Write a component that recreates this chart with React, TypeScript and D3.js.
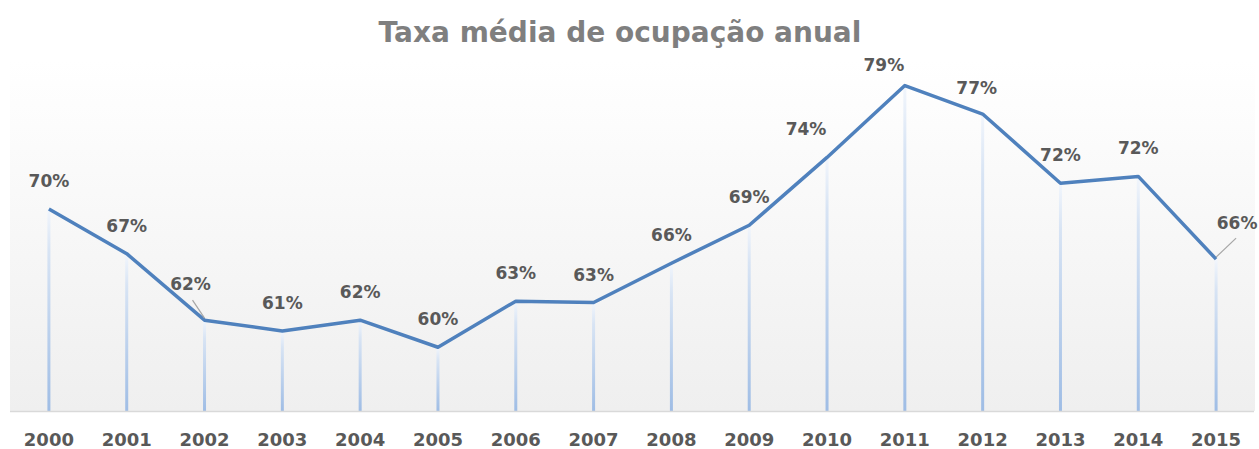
import React, { useEffect, useRef } from "react";
import * as d3 from "d3";

const years = ["2000", "2001", "2002", "2003", "2004", "2005", "2006", "2007",
  "2008", "2009", "2010", "2011", "2012", "2013", "2014", "2015"];
const rates = [69.9, 66.6, 61.7, 60.9, 61.7, 59.7, 63.1, 63.0,
  65.9, 68.7, 73.7, 79.0, 76.9, 71.8, 72.3, 66.2];
const title = "Taxa média de ocupação anual";

// label nudges (dx, dy) relative to point, Excel-style placement
const labelOffset: Record<string, [number, number]> = {
  "2002": [-14, -30],
  "2011": [-21, -15],
  "2012": [-6, -20],
  "2010": [-21, -22],
  "2015": [21, -30],
};

const W = 1259;
const H = 449;
const FONT = "'DejaVu Sans', Verdana, sans-serif";

export default function App() {
  const ref = useRef<SVGSVGElement | null>(null);

  useEffect(() => {
    const svg = d3.select(ref.current);
    svg.selectAll("*").remove();

    const left = 10, right = 1255, top = 72, bottom = 411;
    const x = d3.scaleBand().domain(years).range([left, right]);
    const y = d3.scaleLinear().domain([55, 80]).range([bottom, top]);
    const cx = (d: string) => (x(d) ?? 0) + x.bandwidth() / 2;

    const defs = svg.append("defs");
    const bg = defs.append("linearGradient").attr("id", "bg")
      .attr("x1", 0).attr("y1", 0).attr("x2", 0).attr("y2", 1);
    bg.append("stop").attr("offset", "0%").attr("stop-color", "#ffffff");
    bg.append("stop").attr("offset", "100%").attr("stop-color", "#efefef");

    const drop = defs.append("linearGradient").attr("id", "drop")
      .attr("x1", 0).attr("y1", 0).attr("x2", 0).attr("y2", 1);
    drop.append("stop").attr("offset", "0%").attr("stop-color", "#f2f6fc");
    drop.append("stop").attr("offset", "20%").attr("stop-color", "#d8e4f4");
    drop.append("stop").attr("offset", "100%").attr("stop-color", "#9fbde5");

    svg.append("rect")
      .attr("x", left).attr("y", 60)
      .attr("width", right - left).attr("height", bottom - 60)
      .attr("fill", "url(#bg)");

    svg.append("text")
      .attr("x", 620).attr("y", 42)
      .attr("text-anchor", "middle")
      .style("font-family", FONT)
      .style("font-weight", "bold")
      .style("font-size", "28px")
      .style("fill", "#7f7f7f")
      .text(title);

    // drop lines (rects so the gradient works on vertical strokes)
    svg.selectAll("rect.drop")
      .data(years)
      .enter()
      .append("rect")
      .attr("class", "drop")
      .attr("x", (d) => cx(d) - 1.5)
      .attr("y", (d, i) => y(rates[i]))
      .attr("width", 3)
      .attr("height", (d, i) => bottom - y(rates[i]))
      .attr("fill", "url(#drop)");

    svg.append("line")
      .attr("x1", left).attr("x2", right - 1)
      .attr("y1", bottom + 0.5).attr("y2", bottom + 0.5)
      .attr("stroke", "#d9d9d9")
      .attr("stroke-width", 1.5);

    const line = d3.line<number>()
      .x((d, i) => cx(years[i]))
      .y((d) => y(d));

    svg.append("path")
      .datum(rates)
      .attr("d", line)
      .attr("fill", "none")
      .attr("stroke", "#4f81bd")
      .attr("stroke-width", 3.5)
      .attr("stroke-linejoin", "round");

    // leader lines for nudged labels
    ["2002", "2015"].forEach((yr) => {
      const i = years.indexOf(yr);
      const px = cx(yr), py = y(rates[i]);
      const [dx] = labelOffset[yr];
      svg.append("line")
        .attr("x1", px).attr("y1", py - 2)
        .attr("x2", px + (dx < 0 ? -12 : 20)).attr("y2", py - (dx < 0 ? 20 : 21))
        .attr("stroke", "#a6a6a6")
        .attr("stroke-width", 1.2);
    });

    svg.selectAll("text.lbl")
      .data(years)
      .enter()
      .append("text")
      .attr("class", "lbl")
      .attr("x", (d) => cx(d) + (labelOffset[d]?.[0] ?? 0))
      .attr("y", (d, i) => y(rates[i]) + (labelOffset[d]?.[1] ?? -22))
      .attr("text-anchor", "middle")
      .style("font-family", FONT)
      .style("font-weight", "bold")
      .style("font-size", "17px")
      .style("fill", "#595959")
      .text((d, i) => `${Math.round(rates[i])}%`);

    svg.selectAll("text.cat")
      .data(years)
      .enter()
      .append("text")
      .attr("class", "cat")
      .attr("x", (d) => cx(d))
      .attr("y", 446)
      .attr("text-anchor", "middle")
      .style("font-family", FONT)
      .style("font-weight", "bold")
      .style("font-size", "18px")
      .style("fill", "#595959")
      .text((d) => d);
  }, []);

  return (
    <svg ref={ref} width={W} height={H}
      style={{ position: "absolute", left: 0, top: 0, background: "#fff" }} />
  );
}
